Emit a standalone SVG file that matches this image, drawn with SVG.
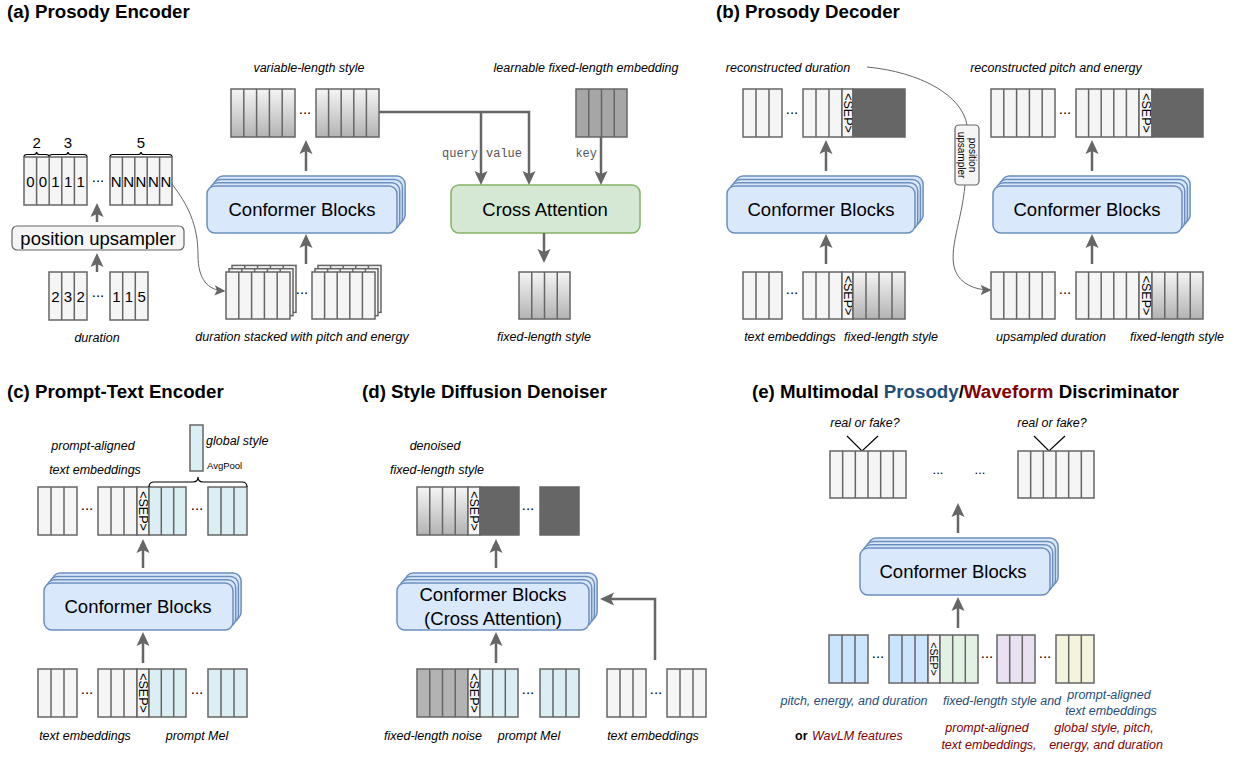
<svg xmlns="http://www.w3.org/2000/svg" width="1238" height="758" viewBox="0 0 1238 758">
<defs>
<linearGradient id="gr" x1="0" y1="0" x2="0" y2="1"><stop offset="0" stop-color="#f5f5f5"/><stop offset="1" stop-color="#b3b3b3"/></linearGradient>
<marker id="ah" viewBox="0 0 14 14" refX="10" refY="7" markerWidth="14" markerHeight="14" markerUnits="userSpaceOnUse" orient="auto"><path d="M0,0.5 L14,7 L0,13.5 L3,7 Z" fill="#666"/></marker>
<marker id="aht" viewBox="0 0 14 14" refX="12" refY="7" markerWidth="11" markerHeight="11" markerUnits="userSpaceOnUse" orient="auto"><path d="M0,0.5 L14,7 L0,13.5 L3,7 Z" fill="#666"/></marker>
<style>
text{font-family:"Liberation Sans",Arial,sans-serif;fill:#000}
.t{font-size:18.7px;font-weight:bold}
.l{font-size:12.5px;font-style:italic;text-anchor:middle}
.cf{font-size:18.5px;text-anchor:middle}
.m{font-family:"Liberation Mono","Courier New",monospace;font-size:12px;fill:#555}
.d{font-size:15px;text-anchor:middle}
.n{font-size:15px;text-anchor:middle}
.sep{font-size:12.5px;text-anchor:middle;dominant-baseline:central}
.c{fill:#f5f5f5;stroke:#666;stroke-width:1.5}
.g{fill:url(#gr);stroke:#666;stroke-width:1.5}
.k{fill:#666;stroke:#666;stroke-width:1.5}
.md{fill:#a6a6a6;stroke:#666;stroke-width:1.5}
.nz{fill:#b3b3b3;stroke:#666;stroke-width:1.5}
.b{fill:#dbeef4;stroke:#666;stroke-width:1.5}
.eb{fill:#cce5ff;stroke:#666;stroke-width:1.5}
.eg{fill:#e3f1e3;stroke:#666;stroke-width:1.5}
.ep{fill:#e9e1f1;stroke:#666;stroke-width:1.5}
.ey{fill:#f4f4dc;stroke:#666;stroke-width:1.5}
.dv{fill:none;stroke:#666;stroke-width:1.5}
.cb{fill:#dae8fc;stroke:#6c8ebf;stroke-width:1.5}
.ca{fill:#d5e8d4;stroke:#82b366;stroke-width:1.5}
.ub{fill:#f5f5f5;stroke:#666;stroke-width:1.2}
.ar{fill:none;stroke:#666;stroke-width:2.5;marker-end:url(#ah)}
.th{fill:none;stroke:#666;stroke-width:1}
.tha{fill:none;stroke:#666;stroke-width:1;marker-end:url(#aht)}
.br{fill:none;stroke:#000;stroke-width:1.2}
.bt{fill:#1f4e79}
.rt{fill:#800000}
</style>
</defs>
<rect width="1238" height="758" fill="#fff"/>

<g id="titles">
<text class="t" x="7" y="17.5">(a) Prosody Encoder</text>
<text class="t" x="716" y="17.5">(b) Prosody Decoder</text>
<text class="t" x="7" y="397.5">(c) Prompt-Text Encoder</text>
<text class="t" x="362" y="397.5">(d) Style Diffusion Denoiser</text>
<text class="t" x="752" y="397.5">(e) Multimodal <tspan class="bt">Prosody</tspan>/<tspan class="rt">Waveform</tspan> Discriminator</text>
</g>

<!-- ========== (a) ========== -->
<g id="a-upsampled-positions">
<path class="br" d="M24,157 Q24,154.5 27,154.5 L33.5,154.5 Q36.6,154.5 36.6,152 Q36.6,154.5 39.6,154.5 L46,154.5 Q49.2,154.5 49.2,157"/>
<path class="br" d="M49.2,157 Q49.2,154.5 52.2,154.5 L65,154.5 Q68,154.5 68,152 Q68,154.5 71,154.5 L84,154.5 Q87,154.5 87,157"/>
<path class="br" d="M110,157 Q110,154.5 113,154.5 L138,154.5 Q141,154.5 141,152 Q141,154.5 144,154.5 L169,154.5 Q172,154.5 172,157"/>
<text class="n" x="36.6" y="148">2</text>
<text class="n" x="68" y="148">3</text>
<text class="n" x="141" y="148">5</text>
<rect class="c" x="24" y="157" width="63" height="48"/>
<path class="dv" d="M36.6,157v48M49.2,157v48M61.8,157v48M74.4,157v48"/>
<text class="n" x="30.3" y="186.5">0</text><text class="n" x="42.9" y="186.5">0</text><text class="n" x="55.5" y="186.5">1</text><text class="n" x="68.1" y="186.5">1</text><text class="n" x="80.7" y="186.5">1</text>
<text class="d" x="98" y="182">...</text>
<rect class="c" x="110" y="157" width="62" height="48"/>
<path class="dv" d="M122.4,157v48M134.8,157v48M147.2,157v48M159.6,157v48"/>
<text class="n" x="116.2" y="186.5">N</text><text class="n" x="128.6" y="186.5">N</text><text class="n" x="141" y="186.5">N</text><text class="n" x="153.4" y="186.5">N</text><text class="n" x="165.8" y="186.5">N</text>
</g>

<g id="a-position-upsampler">
<rect class="ub" x="12" y="226" width="172" height="24" rx="5"/>
<text class="cf" x="98" y="244.5">position upsampler</text>
</g>

<g id="a-duration">
<rect class="c" x="49" y="272" width="38" height="48"/>
<path class="dv" d="M61.7,272v48M74.3,272v48"/>
<text class="n" x="55.3" y="301.5">2</text><text class="n" x="68" y="301.5">3</text><text class="n" x="80.7" y="301.5">2</text>
<text class="d" x="98" y="297">...</text>
<rect class="c" x="110" y="272" width="38" height="48"/>
<path class="dv" d="M122.7,272v48M135.3,272v48"/>
<text class="n" x="116.3" y="301.5">1</text><text class="n" x="129" y="301.5">1</text><text class="n" x="141.7" y="301.5">5</text>
<text class="l" x="97" y="342">duration</text>
</g>

<g id="a-stacked-input">
<rect class="c" x="232" y="265.4" width="64" height="47"/><path class="dv" d="M244.8,265.4v47M257.6,265.4v47M270.4,265.4v47M283.2,265.4v47"/>
<rect class="c" x="229" y="268.7" width="64" height="47"/><path class="dv" d="M241.8,268.7v47M254.6,268.7v47M267.4,268.7v47M280.2,268.7v47"/>
<rect class="c" x="226" y="272" width="64" height="47"/><path class="dv" d="M238.8,272v47M251.6,272v47M264.4,272v47M277.2,272v47"/>
<text class="d" x="302" y="294">...</text>
<rect class="c" x="318" y="265.4" width="63" height="47"/><path class="dv" d="M330.6,265.4v47M343.2,265.4v47M355.8,265.4v47M368.4,265.4v47"/>
<rect class="c" x="315" y="268.7" width="63" height="47"/><path class="dv" d="M327.6,268.7v47M340.2,268.7v47M352.8,268.7v47M365.4,268.7v47"/>
<rect class="c" x="312" y="272" width="63" height="47"/><path class="dv" d="M324.6,272v47M337.2,272v47M349.8,272v47M362.4,272v47"/>
<text class="l" x="302" y="341">duration stacked with pitch and energy</text>
</g>

<g id="a-conformer">
<rect class="cb" x="215.1" y="176.1" width="190" height="47" rx="8"/>
<rect class="cb" x="212.4" y="179.4" width="190" height="47" rx="8"/>
<rect class="cb" x="209.7" y="182.7" width="190" height="47" rx="8"/>
<rect class="cb" x="207" y="186" width="190" height="47" rx="8"/>
<text class="cf" x="302" y="215.5">Conformer Blocks</text>
</g>

<g id="a-variable-style">
<text class="l" x="309" y="72">variable-length style</text>
<rect class="g" x="231" y="89" width="64" height="48"/>
<path class="dv" d="M243.8,89v48M256.6,89v48M269.4,89v48M282.2,89v48"/>
<text class="d" x="305" y="114">...</text>
<rect class="g" x="316" y="89" width="63" height="48"/>
<path class="dv" d="M328.6,89v48M341.2,89v48M353.8,89v48M366.4,89v48"/>
</g>

<g id="a-learnable-embedding">
<text class="l" x="586" y="72">learnable fixed-length embedding</text>
<rect class="md" x="576" y="89" width="51" height="48"/>
<path class="dv" d="M588.75,89v48M601.5,89v48M614.25,89v48"/>
</g>

<g id="a-cross-attention">
<rect class="ca" x="451" y="185" width="189" height="48" rx="8"/>
<text class="cf" x="545" y="215.5">Cross Attention</text>
</g>

<g id="a-fixed-style">
<rect class="g" x="519" y="272" width="51" height="47"/>
<path class="dv" d="M531.75,272v47M544.5,272v47M557.25,272v47"/>
<text class="l" x="544" y="341">fixed-length style</text>
</g>

<!-- ========== (b) ========== -->
<g id="b-reconstructed-duration">
<text class="l" x="788" y="72">reconstructed duration</text>
<rect class="c" x="743" y="89" width="39" height="48"/>
<path class="dv" d="M756,89v48M769,89v48"/>
<text class="d" x="792" y="114">...</text>
<rect class="c" x="803" y="89" width="39" height="48"/>
<path class="dv" d="M816,89v48M829,89v48"/>
<rect class="c" x="842" y="89" width="11" height="48"/>
<text class="sep" transform="translate(847.5,113) rotate(90)">&lt;SEP&gt;</text>
<rect class="k" x="853" y="89" width="52" height="48"/>
</g>

<g id="b-conformer-1">
<rect class="cb" x="735.1" y="176.1" width="188" height="47" rx="8"/>
<rect class="cb" x="732.4" y="179.4" width="188" height="47" rx="8"/>
<rect class="cb" x="729.7" y="182.7" width="188" height="47" rx="8"/>
<rect class="cb" x="727" y="186" width="188" height="47" rx="8"/>
<text class="cf" x="821" y="215.5">Conformer Blocks</text>
</g>

<g id="b-input-1">
<rect class="c" x="743" y="272" width="39" height="47"/>
<path class="dv" d="M756,272v47M769,272v47"/>
<text class="d" x="792" y="294">...</text>
<rect class="c" x="803" y="272" width="39" height="47"/>
<path class="dv" d="M816,272v47M829,272v47"/>
<rect class="c" x="842" y="272" width="11" height="47"/>
<text class="sep" transform="translate(847.5,295.5) rotate(90)">&lt;SEP&gt;</text>
<rect class="g" x="853" y="272" width="52" height="47"/>
<path class="dv" d="M866,272v47M879,272v47M892,272v47"/>
<text class="l" x="790" y="341">text embeddings</text>
<text class="l" x="891" y="341">fixed-length style</text>
</g>

<g id="b-position-upsampler">
<rect class="ub" x="955" y="125" width="24" height="60" rx="4"/>
<g transform="translate(967,155) rotate(90)">
<text x="0" y="-5.5" style="font-size:10px;text-anchor:middle;dominant-baseline:central">position</text>
<text x="0" y="6" style="font-size:10px;text-anchor:middle;dominant-baseline:central">upsampler</text>
</g>
</g>

<g id="b-reconstructed-pitch">
<text class="l" x="1056" y="72">reconstructed pitch and energy</text>
<rect class="c" x="991" y="89" width="64" height="48"/>
<path class="dv" d="M1003.8,89v48M1016.6,89v48M1029.4,89v48M1042.2,89v48"/>
<text class="d" x="1065" y="114">...</text>
<rect class="c" x="1076" y="89" width="63" height="48"/>
<path class="dv" d="M1088.6,89v48M1101.2,89v48M1113.8,89v48M1126.4,89v48"/>
<rect class="c" x="1139" y="89" width="13" height="48"/>
<text class="sep" transform="translate(1145.5,113) rotate(90)">&lt;SEP&gt;</text>
<rect class="k" x="1152" y="89" width="51" height="48"/>
</g>

<g id="b-conformer-2">
<rect class="cb" x="1001.1" y="176.1" width="189" height="47" rx="8"/>
<rect class="cb" x="998.4" y="179.4" width="189" height="47" rx="8"/>
<rect class="cb" x="995.7" y="182.7" width="189" height="47" rx="8"/>
<rect class="cb" x="993" y="186" width="189" height="47" rx="8"/>
<text class="cf" x="1087" y="215.5">Conformer Blocks</text>
</g>

<g id="b-input-2">
<rect class="c" x="991" y="272" width="64" height="47"/>
<path class="dv" d="M1003.8,272v47M1016.6,272v47M1029.4,272v47M1042.2,272v47"/>
<text class="d" x="1065" y="294">...</text>
<rect class="c" x="1076" y="272" width="63" height="47"/>
<path class="dv" d="M1088.6,272v47M1101.2,272v47M1113.8,272v47M1126.4,272v47"/>
<rect class="c" x="1139" y="272" width="13" height="47"/>
<text class="sep" transform="translate(1145.5,295.5) rotate(90)">&lt;SEP&gt;</text>
<rect class="g" x="1152" y="272" width="51" height="47"/>
<path class="dv" d="M1164.75,272v47M1177.5,272v47M1190.25,272v47"/>
<text class="l" x="1051" y="341">upsampled duration</text>
<text class="l" x="1177" y="341">fixed-length style</text>
</g>

<!-- ========== (c) ========== -->
<g id="c-output">
<text class="l" x="93" y="450">prompt-aligned</text>
<text class="l" x="95" y="474">text embeddings</text>
<rect class="c" x="38" y="487" width="39" height="48"/>
<path class="dv" d="M51,487v48M64,487v48"/>
<text class="d" x="87" y="510">...</text>
<rect class="c" x="98" y="487" width="39" height="48"/>
<path class="dv" d="M111,487v48M124,487v48"/>
<rect class="c" x="137" y="487" width="12" height="48"/>
<text class="sep" transform="translate(143,511) rotate(90)">&lt;SEP&gt;</text>
<rect class="b" x="149" y="487" width="37" height="48"/>
<path class="dv" d="M161.3,487v48M173.7,487v48"/>
<text class="d" x="197" y="510">...</text>
<rect class="b" x="208" y="487" width="39" height="48"/>
<path class="dv" d="M221,487v48M234,487v48"/>
</g>

<g id="c-global-style">
<path class="br" d="M149,487 Q149,482 154,482 L193,482 Q198,482 198,477 Q198,482 203,482 L242,482 Q247,482 247,487"/>
<rect class="b" x="190" y="425" width="13" height="46"/>
<text x="206" y="445" style="font-size:12.5px;font-style:italic">global style</text>
<text x="207" y="469" style="font-size:9.5px">AvgPool</text>
</g>

<g id="c-conformer">
<rect class="cb" x="52.1" y="573.1" width="189" height="47" rx="8"/>
<rect class="cb" x="49.4" y="576.4" width="189" height="47" rx="8"/>
<rect class="cb" x="46.7" y="579.7" width="189" height="47" rx="8"/>
<rect class="cb" x="44" y="583" width="189" height="47" rx="8"/>
<text class="cf" x="138" y="613">Conformer Blocks</text>
</g>

<g id="c-input">
<rect class="c" x="38" y="669" width="39" height="48"/>
<path class="dv" d="M51,669v48M64,669v48"/>
<text class="d" x="87" y="694">...</text>
<rect class="c" x="98" y="669" width="39" height="48"/>
<path class="dv" d="M111,669v48M124,669v48"/>
<rect class="c" x="137" y="669" width="12" height="48"/>
<text class="sep" transform="translate(143,693) rotate(90)">&lt;SEP&gt;</text>
<rect class="b" x="149" y="669" width="37" height="48"/>
<path class="dv" d="M161.3,669v48M173.7,669v48"/>
<text class="d" x="197" y="694">...</text>
<rect class="b" x="208" y="669" width="39" height="48"/>
<path class="dv" d="M221,669v48M234,669v48"/>
<text class="l" x="85" y="740">text embeddings</text>
<text class="l" x="197" y="740">prompt Mel</text>
</g>

<!-- ========== (d) ========== -->
<g id="d-output">
<text class="l" x="435" y="450">denoised</text>
<text class="l" x="437" y="474">fixed-length style</text>
<rect class="g" x="417" y="487" width="51" height="48"/>
<path class="dv" d="M429.75,487v48M442.5,487v48M455.25,487v48"/>
<rect class="c" x="468" y="487" width="12" height="48"/>
<text class="sep" transform="translate(474,511) rotate(90)">&lt;SEP&gt;</text>
<rect class="k" x="480" y="487" width="39" height="48"/>
<text class="d" x="528" y="510">...</text>
<rect class="k" x="540" y="487" width="39" height="48"/>
</g>

<g id="d-conformer">
<rect class="cb" x="405.1" y="573.1" width="192" height="47" rx="8"/>
<rect class="cb" x="402.4" y="576.4" width="192" height="47" rx="8"/>
<rect class="cb" x="399.7" y="579.7" width="192" height="47" rx="8"/>
<rect class="cb" x="397" y="583" width="192" height="47" rx="8"/>
<text class="cf" x="493" y="601">Conformer Blocks</text>
<text class="cf" x="493" y="624.5">(Cross Attention)</text>
</g>

<g id="d-input">
<rect class="nz" x="417" y="669" width="51" height="48"/>
<path class="dv" d="M429.75,669v48M442.5,669v48M455.25,669v48"/>
<rect class="c" x="468" y="669" width="12" height="48"/>
<text class="sep" transform="translate(474,693) rotate(90)">&lt;SEP&gt;</text>
<rect class="b" x="480" y="669" width="38" height="48"/>
<path class="dv" d="M492.7,669v48M505.3,669v48"/>
<text class="d" x="528" y="694">...</text>
<rect class="b" x="540" y="669" width="39" height="48"/>
<path class="dv" d="M553,669v48M566,669v48"/>
<text class="l" x="433" y="740">fixed-length noise</text>
<text class="l" x="529" y="740">prompt Mel</text>
</g>

<g id="d-text-embeddings">
<rect class="c" x="607" y="669" width="39" height="48"/>
<path class="dv" d="M620,669v48M633,669v48"/>
<text class="d" x="656" y="694">...</text>
<rect class="c" x="667" y="669" width="39" height="48"/>
<path class="dv" d="M680,669v48M693,669v48"/>
<text class="l" x="653" y="740">text embeddings</text>
</g>

<!-- ========== (e) ========== -->
<g id="e-output">
<text x="865" y="427" style="font-size:12.5px;font-style:italic;text-anchor:middle">real or fake?</text>
<text x="1052" y="427" style="font-size:12.5px;font-style:italic;text-anchor:middle">real or fake?</text>
<path class="br" d="M847,436 L862,451 L878,436"/>
<path class="br" d="M1034,436 L1049,451 L1065,436"/>
<rect class="c" x="830" y="451" width="76" height="47"/>
<path class="dv" d="M842.67,451v47M855.33,451v47M868,451v47M880.67,451v47M893.33,451v47"/>
<text x="938" y="474" style="font-size:13px;text-anchor:middle">...</text>
<text x="980" y="474" style="font-size:13px;text-anchor:middle">...</text>
<rect class="c" x="1018" y="451" width="76" height="47"/>
<path class="dv" d="M1030.67,451v47M1043.33,451v47M1056,451v47M1068.67,451v47M1081.33,451v47"/>
</g>

<g id="e-conformer">
<rect class="cb" x="868.1" y="538.1" width="190" height="47" rx="8"/>
<rect class="cb" x="865.4" y="541.4" width="190" height="47" rx="8"/>
<rect class="cb" x="862.7" y="544.7" width="190" height="47" rx="8"/>
<rect class="cb" x="860" y="548" width="190" height="47" rx="8"/>
<text class="cf" x="953" y="577.5">Conformer Blocks</text>
</g>

<g id="e-input">
<rect class="eb" x="829" y="635" width="39" height="48"/>
<path class="dv" d="M842,635v48M855,635v48"/>
<text class="d" x="878" y="658">...</text>
<rect class="eb" x="889" y="635" width="39" height="48"/>
<path class="dv" d="M902,635v48M915,635v48"/>
<rect class="c" x="928" y="635" width="12" height="48"/>
<text class="sep" style="font-size:10.5px" transform="translate(934,659) rotate(90)">&lt;SEP&gt;</text>
<rect class="eg" x="940" y="635" width="38" height="48"/>
<path class="dv" d="M952.7,635v48M965.3,635v48"/>
<text class="d" x="987" y="658">...</text>
<rect class="ep" x="997" y="635" width="38" height="48"/>
<path class="dv" d="M1009.7,635v48M1022.3,635v48"/>
<text class="d" x="1045" y="658">...</text>
<rect class="ey" x="1056" y="635" width="38" height="48"/>
<path class="dv" d="M1068.7,635v48M1081.3,635v48"/>
</g>

<g id="e-labels">
<text class="l bt" x="854" y="705">pitch, energy, and duration</text>
<text class="l bt" x="1002" y="705">fixed-length style and</text>
<text class="l bt" x="1109" y="699">prompt-aligned</text>
<text class="l bt" x="1111" y="715">text embeddings</text>
<text x="795" y="740" style="font-size:12.5px;font-weight:bold">or</text>
<text class="rt" x="812" y="740" style="font-size:12.5px;font-style:italic">WavLM features</text>
<text class="l rt" x="987" y="732">prompt-aligned</text>
<text class="l rt" x="989" y="749">text embeddings,</text>
<text class="l rt" x="1104" y="732">global style, pitch,</text>
<text class="l rt" x="1106" y="749">energy, and duration</text>
</g>

<g id="connectors">
<path class="ar" d="M97,222V207"/>
<path class="ar" d="M97,272V257"/>
<path class="tha" d="M172,184 C188,205 198,225 198,255 C198,280 208,290 224,291"/>
<path class="ar" d="M306,264V238"/>
<path class="ar" d="M306,171V144"/>
<path class="ar" d="M379,112H529V181"/>
<path class="ar" d="M481,112V181"/>
<path class="ar" d="M601,137V181"/>
<path class="ar" d="M544,233V259"/>
<text class="m" x="478" y="157" text-anchor="end">query</text>
<text class="m" x="486" y="157">value</text>
<text class="m" x="597" y="157" text-anchor="end">key</text>

<path class="ar" d="M826,171V144"/>
<path class="ar" d="M826,264V238"/>
<path class="ar" d="M1092,171V144"/>
<path class="ar" d="M1092,264V238"/>
<path class="th" d="M867,67 C920,72 962,95 967,125"/>
<path class="tha" d="M965,185 C962,220 948,250 955,270 C960,284 975,290 990,290"/>

<path class="ar" d="M143,568V543"/>
<path class="ar" d="M143,663V636"/>

<path class="ar" d="M496,568V543"/>
<path class="ar" d="M496,663V636"/>
<path class="ar" d="M655,660V599H604"/>

<path class="ar" d="M958,533V507"/>
<path class="ar" d="M958,628V601"/>
</g>
</svg>
